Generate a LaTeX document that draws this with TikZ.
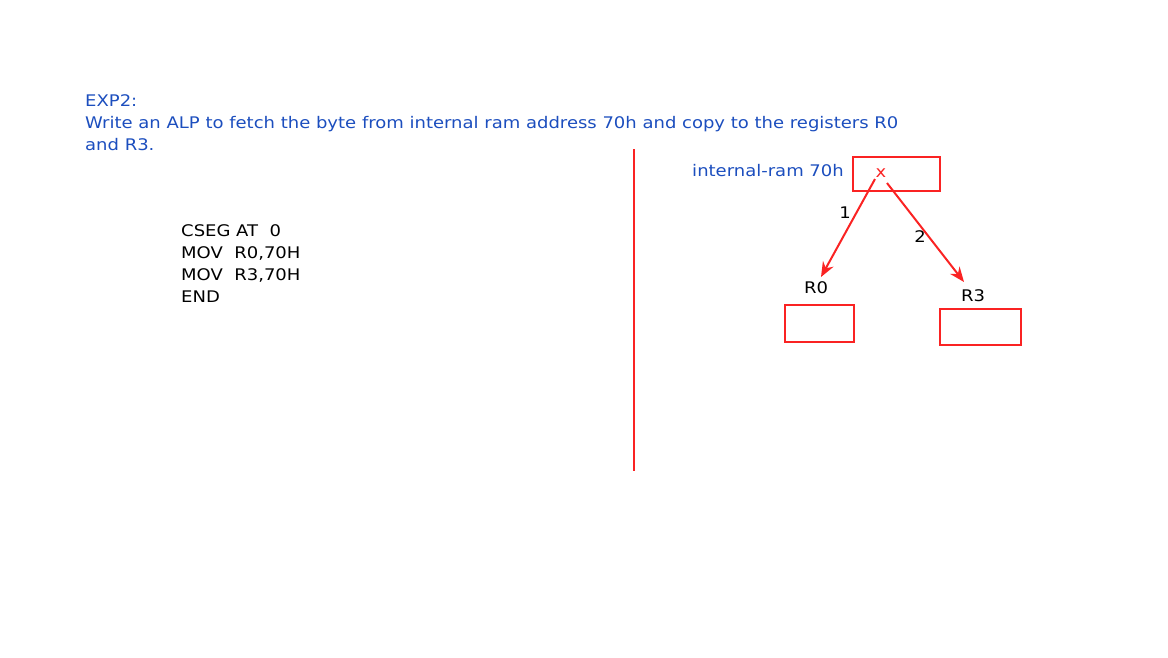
\documentclass[tikz,border=0pt]{standalone}
\usepackage{fontspec}
\setmainfont[FakeStretch=1.125]{DejaVu Sans}
\usetikzlibrary{arrows.meta}
\definecolor{tblue}{RGB}{28,78,190}
\definecolor{tred}{RGB}{250,35,35}
\tikzset{
  txt/.style={inner sep=0pt, font=\fontsize{16}{22}\selectfont},
  bluetxt/.style={txt, text=tblue},
  redbox/.style={draw=tred, line width=1.8pt, inner sep=0pt},
  redarrow/.style={draw=tred, line width=2pt, -{Stealth[length=15pt,width=12pt,inset=5pt]}},
}
\begin{document}
\begin{tikzpicture}[x=1pt,y=-1pt]
\useasboundingbox (0,0) rectangle (1168,657);
\node[bluetxt, anchor=north west, align=left] (task) at (85,94)
  {EXP2:\\Write an ALP to fetch the byte from internal ram address 70h and copy to the registers R0\\and R3.};
\node[txt, anchor=north west, align=left] (code) at (181,224)
  {CSEG AT\ \ 0\\MOV\ \ R0,70H\\MOV\ \ R3,70H\\END};
\coordinate (divtop) at (634,149);
\coordinate (divbot) at (634,471);
\draw[tred, line width=1.6pt] (divtop) -- (divbot);
\node[redbox, minimum width=87pt, minimum height=34pt, anchor=north west] (ram) at (852,156) {};
\node[txt, text=tred, anchor=center] (xm) at (881,173) {x};
\node[bluetxt, anchor=east] (ramlbl) at (844,171) {internal-ram 70h};
\node[txt, anchor=center] (r0lbl) at (816,288) {R0};
\node[txt, anchor=center] (r3lbl) at (973,296) {R3};
\node[redbox, minimum width=69pt, minimum height=37pt, anchor=north west] (r0) at (784,304) {};
\node[redbox, minimum width=81pt, minimum height=36pt, anchor=north west] (r3) at (939,308) {};
\coordinate (a1s) at (875,179);
\coordinate (a1e) at (821,277);
\coordinate (a2s) at (887,183);
\coordinate (a2e) at (964,282);
\draw[redarrow] (a1s) -- (a1e);
\draw[redarrow] (a2s) -- (a2e);
\node[txt] (n1) at (845,213) {1};
\node[txt] (n2) at (920,237) {2};
\end{tikzpicture}
\end{document}
